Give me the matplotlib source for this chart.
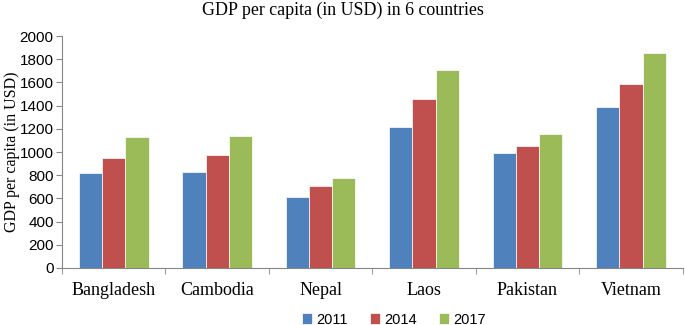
import numpy as np
import matplotlib
matplotlib.use("Agg")
import matplotlib.pyplot as plt

countries = ["Bangladesh", "Cambodia", "Nepal", "Laos", "Pakistan", "Vietnam"]
years = ["2011", "2014", "2017"]
gdp_2011 = [819, 828, 612, 1213, 994, 1385]
gdp_2014 = [951, 971, 710, 1457, 1055, 1583]
gdp_2017 = [1127, 1135, 779, 1707, 1155, 1856]
colors = ["#4F81BD", "#C0504D", "#9BBB59"]

fig = plt.figure(figsize=(6.85, 3.25), dpi=100)
ax = fig.add_axes([0.0905, 0.1754, 0.906, 0.7136])

x = np.arange(len(countries))
w = 0.225
for i, vals in enumerate([gdp_2011, gdp_2014, gdp_2017]):
    ax.bar(x + (i - 1) * w, vals, w, color=colors[i], label=years[i],
           edgecolor="white", linewidth=0.5)

ax.set_xlim(-0.5, len(countries) - 0.5)
ax.set_ylim(0, 2000)
ax.set_yticks(range(0, 2001, 200))
ax.set_xticks(x)
ax.set_xticklabels(countries, family="Liberation Serif", fontsize=13)
ax.set_xticks(np.arange(-0.5, len(countries), 1), minor=True)
ax.tick_params(axis="x", which="major", length=0, pad=10)
ax.tick_params(axis="x", which="minor", length=4, color="#868686", direction="out")
ax.tick_params(axis="y", length=4, color="#868686", direction="out", labelsize=11, pad=2)
for lbl in ax.get_yticklabels():
    lbl.set_family("Liberation Sans")

for s in ["top", "right"]:
    ax.spines[s].set_visible(False)
ax.spines["left"].set_color("#868686")
ax.spines["bottom"].set_color("#868686")

ax.set_ylabel("GDP per capita (in USD)", family="Liberation Serif", fontsize=11.5)
ax.yaxis.set_label_coords(-0.068, 0.5)
fig.suptitle("GDP per capita (in USD) in 6 countries", family="Liberation Serif",
             fontsize=12.9, y=0.995)

fig.legend(loc="lower center", bbox_to_anchor=(0.575, -0.045), ncol=3, frameon=False,
           prop={"family": "Liberation Sans", "size": 10.5}, handlelength=0.7,
           handleheight=0.7, columnspacing=1.5, handletextpad=0.3)

fig.savefig("out.png", dpi=100)
